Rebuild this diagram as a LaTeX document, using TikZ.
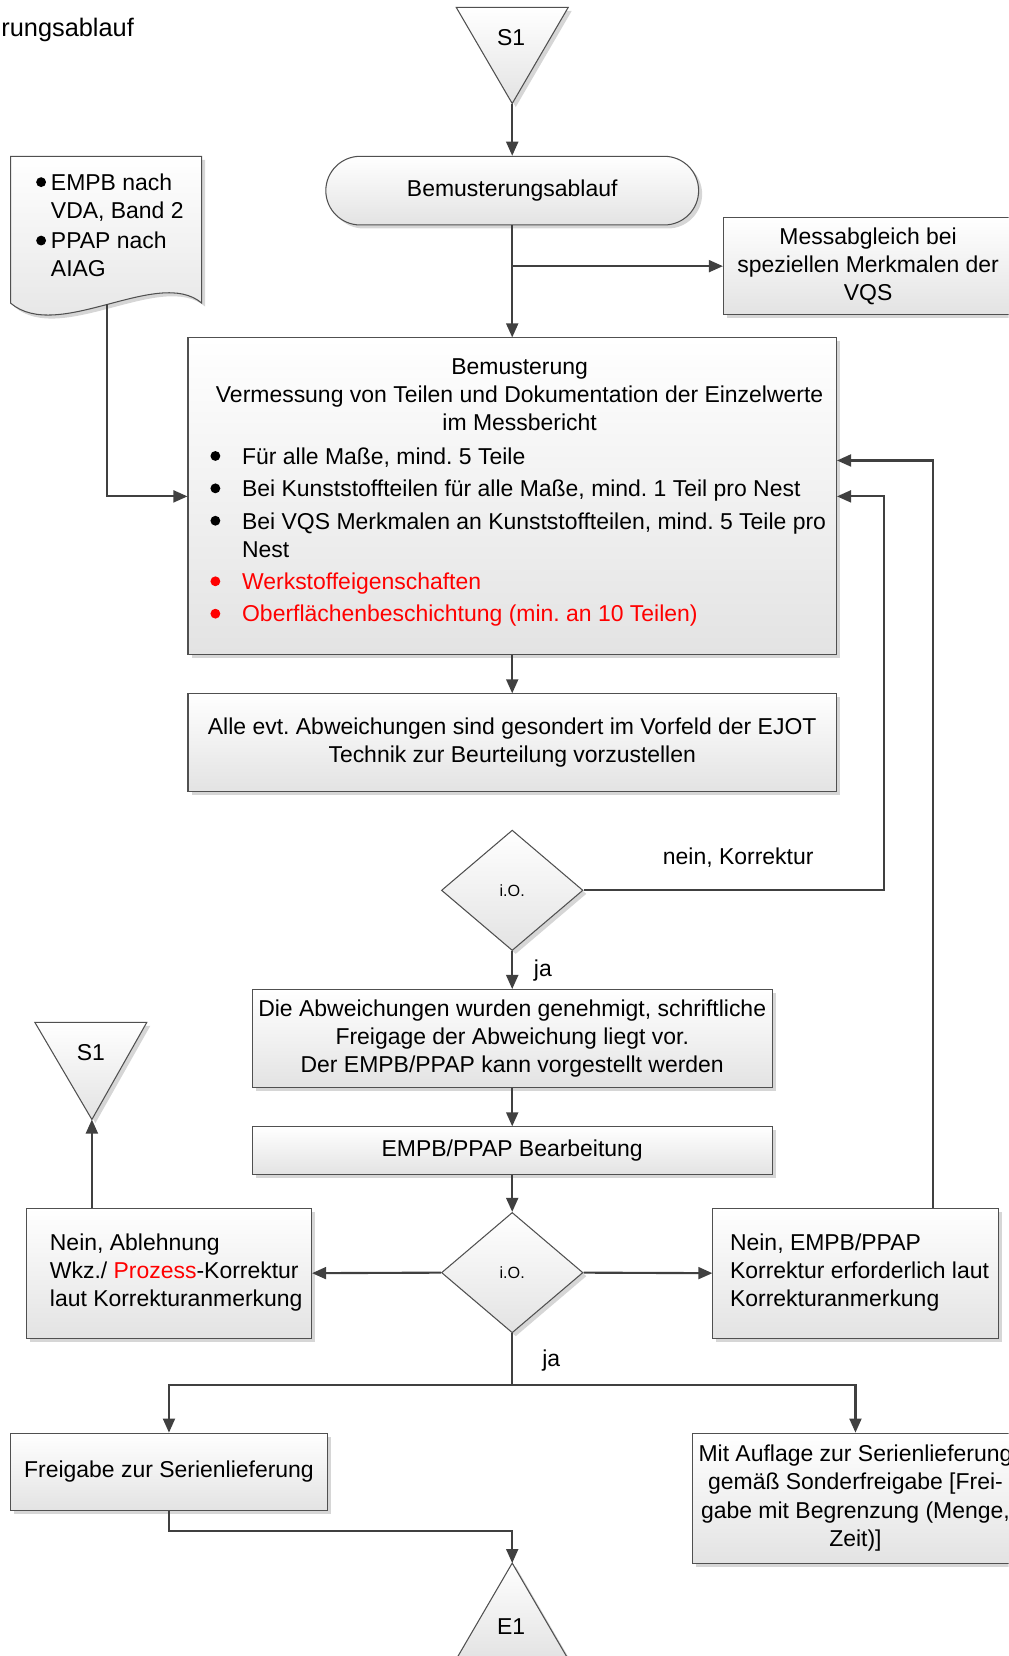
\documentclass[tikz,border=0pt]{standalone}
\usepackage{fontspec}
\setmainfont{Liberation Sans}
\usetikzlibrary{arrows.meta,shapes.geometric,shadows}
\definecolor{ln}{HTML}{404040}
\definecolor{bd}{HTML}{505050}
\frenchspacing
\newcommand\nf{\fontsize{16.3pt}{20pt}\selectfont}
\newcommand\bul[1][black]{\tikz[baseline=-0.36em]\fill[#1] (0pt,0pt) circle (3.5pt);}
\tikzset{
 u/.style 2 args={minimum width=#1*0.75pt, minimum height=#2*0.75pt},
 box/.style={draw=bd, line width=0.75pt, top color=white, bottom color=black!11,
   drop shadow={shadow xshift=2.5pt, shadow yshift=-2.5pt, fill=black!16, opacity=1},
   inner sep=0pt, font=\nf, align=center, text=black},
 conn/.style={draw=ln, line width=1.5pt, -{Triangle[length=10pt,width=8.5pt]}},
 plain/.style={draw=ln, line width=1.5pt},
 txt/.style={inner sep=0pt, font=\nf, align=left},
 small/.style={font=\fontsize{11.5pt}{13pt}\selectfont}
}
\begin{document}
\begin{tikzpicture}[x=0.75pt,y=-0.75pt]
\useasboundingbox (0,0) rectangle (955,1568);
\clip (0,0) rectangle (955,1568);

\node[txt, anchor=east, font=\fontsize{18pt}{20pt}\selectfont] (title) at (127,28) {rungsablauf};

% start triangle S1
\coordinate (s1a) at (485,98);
\path[box] (432,7) -- (538,7) -- (s1a) -- cycle;
\node[txt] (s1t) at (484,36) {S1};

\node[box, u={353}{65}, rounded corners=24.4pt] (term) at (485,180.5) {Bemusterungsablauf};
\node[box, u={274}{92}] (mess) at (822,252) {Messabgleich bei\\speziellen Merkmalen der\\VQS};

% document shape
\path[box] (10,148) -- (191,148) -- (191,287) .. controls (150,252) and (55,325) .. (10,287) -- cycle;
\coordinate (docb) at (101,288);
\node[txt, anchor=west] (doct) at (34,213.5) {\makebox[10.5pt][l]{\bul}EMPB nach\\\hspace*{10.5pt}VDA, Band 2\\[1.5pt]\makebox[10.5pt][l]{\bul}PPAP nach\\\hspace*{10.5pt}AIAG};

% Bemusterung
\node[box, u={614}{300}] (bem) at (485,470) {};
\node[txt, align=center] (bemh) at (492,374) {Bemusterung\\Vermessung von Teilen und Dokumentation der Einzelwerte\\im Messbericht};
\node[txt, anchor=west] (beml) at (199,508.6) {\makebox[22.5pt][l]{\bul}Für alle Maße, mind. 5 Teile\\[3pt]
\makebox[22.5pt][l]{\bul}Bei Kunststoffteilen für alle Maße, mind. 1 Teil pro Nest\\[3pt]
\makebox[22.5pt][l]{\bul}Bei VQS Merkmalen an Kunststoffteilen, mind. 5 Teile pro\\
\hspace*{22.5pt}Nest\\[3pt]
\textcolor{red}{\makebox[22.5pt][l]{\bul[red]}Werkstoffeigenschaften}\\[3pt]
\textcolor{red}{\makebox[22.5pt][l]{\bul[red]}Oberflächenbeschichtung (min. an 10 Teilen)}};

\node[box, u={614}{92}] (alle) at (485,703) {Alle evt. Abweichungen sind gesondert im Vorfeld der EJOT\\Technik zur Beurteilung vorzustellen};

\node[box, diamond, aspect=1.175, u={134}{114}, small] (d1) at (485,843) {i.O.};
\node[txt] (nk) at (699,812) {nein, Korrektur};
\node[txt] (ja1) at (514,919) {ja};

\node[box, u={492}{93}] (abw) at (485,983.5) {Die Abweichungen wurden genehmigt, schriftliche\\Freigage der Abweichung liegt vor.\\Der EMPB/PPAP kann vorgestellt werden};
\node[box, u={492}{45}] (bearb) at (485,1089.5) {EMPB/PPAP Bearbeitung};

\node[box, diamond, aspect=1.175, u={134}{114}, small] (d2) at (485,1205) {i.O.};

\node[box, u={270}{123}] (nab) at (160,1205.5) {};
\node[txt, anchor=west] (nabt) at (47,1205) {Nein, Ablehnung\\Wkz./ \textcolor{red}{Prozess}-Korrektur\\laut Korrekturanmerkung};
\node[box, u={270}{123}] (nemp) at (810,1205.5) {};
\node[txt, anchor=west] (nempt) at (691,1205) {Nein, EMPB/PPAP\\Korrektur erforderlich laut\\Korrekturanmerkung};

% S1 second triangle
\coordinate (s2a) at (87,1060);
\path[box] (33,968) -- (139,968) -- (s2a) -- cycle;
\node[txt] (s2t) at (86,997) {S1};

\node[box, u={300}{73}] (frei) at (160,1393.5) {Freigabe zur Serienlieferung};
\node[box, u={308}{123}] (mit) at (810,1418.5) {Mit Auflage zur Serienlieferung\\gemäß Sonderfreigabe [Frei-\\gabe mit Begrenzung (Menge,\\Zeit)]};

% E1 triangle
\coordinate (e1a) at (485,1480);
\path[box] (e1a) -- (538,1571) -- (432,1571) -- cycle;
\node[txt] (e1t) at (484,1540) {E1};
\node[txt] (ja2) at (522,1288) {ja};

% connectors
\draw[conn] (s1a) -- (term.north);
\draw[conn] (term.south) -- (bem.north);
\coordinate (br) at (485,252);
\draw[conn] (br) -- (mess.west);
\draw[conn] (docb) |- (bem.west);
\draw[conn] (bem.south) -- (alle.north);
\coordinate (k1) at (837,843);
\draw[conn] (d1.east) -- (k1) |- (bem.east);
\draw[conn] (d1.south) -- (abw.north);
\draw[conn] (abw.south) -- (bearb.north);
\draw[conn] (bearb.south) -- (d2.north);
\draw[conn] (d2.west) -- (nab.east);
\draw[conn] (d2.east) -- (nemp.west);
\draw[conn] (s2a |- nab.north) -- (s2a);
\coordinate (k2) at (883,436);
\draw[conn] (k2 |- nemp.north) -- (k2) -- (k2 -| bem.east);
\coordinate (jn) at (485,1311);
\draw[plain] (d2.south) -- (jn);
\draw[conn] (jn) -| (frei.north);
\draw[conn] (jn) -| (mit.north);
\coordinate (mj) at (485,1450);
\draw[conn] (frei.south) |- (mj) -- (e1a);
\end{tikzpicture}
\end{document}
